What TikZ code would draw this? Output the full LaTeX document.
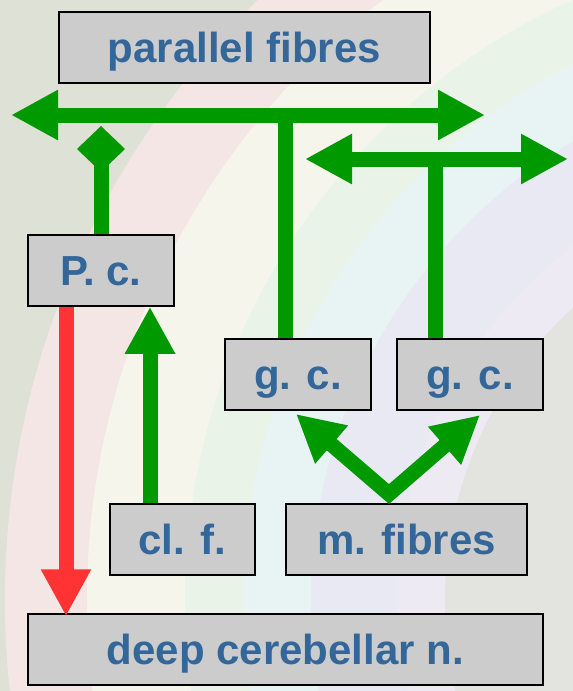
\documentclass[tikz,border=0pt]{standalone}
\usepackage{fontspec}
\setmainfont{Liberation Sans}
\usetikzlibrary{arrows.meta}
\definecolor{gr}{RGB}{0,153,0}
\definecolor{rd}{RGB}{255,51,51}
\definecolor{boxgray}{RGB}{204,204,204}
\definecolor{txtblue}{RGB}{51,102,153}
\definecolor{bgleft}{RGB}{222,226,214}
\definecolor{bpink}{RGB}{245,230,230}
\definecolor{bcream}{RGB}{245,245,236}
\definecolor{bgreen}{RGB}{234,243,232}
\definecolor{bcyan}{RGB}{232,244,243}
\definecolor{blav}{RGB}{233,233,243}
\definecolor{bviol}{RGB}{238,234,243}
\definecolor{bgright}{RGB}{227,227,223}
\begin{document}
\begin{tikzpicture}[x=1pt,y=-1pt,
  box/.style={draw=black, line width=1.5pt, fill=boxgray, inner sep=0pt,
    text=txtblue, font=\bfseries\fontsize{42}{50}\selectfont,
    text height=30pt, text depth=0pt, minimum height=71pt},
  gline/.style={draw=gr, line width=15pt},
  rline/.style={draw=rd, line width=15pt},
  tip/.style={-{Triangle[length=47pt,width=47pt]}},
  dtip/.style={{Triangle[length=47pt,width=47pt]}-{Triangle[length=47pt,width=47pt]}}]
\useasboundingbox (0,0) rectangle (573,691);
\begin{scope}
\clip (0,0) rectangle (573,691);
\fill[bgleft] (0,0) rectangle (573,691);
\coordinate (rc) at (843,600);
\fill[bpink] (rc) circle[radius=838pt];
\fill[bcream] (rc) circle[radius=756pt];
\fill[bgreen] (rc) circle[radius=658pt];
\fill[bcyan] (rc) circle[radius=600pt];
\fill[blav] (rc) circle[radius=532pt];
\fill[bviol] (rc) circle[radius=445pt];
\fill[bgright] (rc) circle[radius=398pt];
\end{scope}

\node[box, minimum width=371pt] (pf) at (244.5,47.5) {parallel fibres};
\node[box, minimum width=146pt] (pc) at (101,270.5) {P. c.};
\node[box, minimum width=146pt] (gc1) at (298,374.5) {g. c.};
\node[box, minimum width=146pt] (gc2) at (470,374.5) {g. c.};
\node[box, minimum width=145pt] (clf) at (182.5,539.5) {cl. f.};
\node[box, minimum width=241pt] (mf) at (406.5,539.5) {m. fibres};
\node[box, minimum width=515pt] (dcn) at (285.5,649.5) {deep cerebellar n.};

% parallel fibre axes
\coordinate (pfL) at (11,115);
\coordinate (pfR) at (485,115);
\coordinate (pfJ) at (285.5,115);
\coordinate (pfL2) at (305,159);
\coordinate (pfR2) at (568,159);
\coordinate (pfJ2) at (435,159);
\draw[gline] (gc1.north -| pfJ) -- (pfJ);
\draw[gline] (gc2.north -| pfJ2) -- (pfJ2);
\draw[gline, dtip] (pfL) -- (pfR);
\draw[gline, dtip] (pfL2) -- (pfR2);

% Purkinje cell dendrite
\coordinate (dm) at (101,126);
\draw[gline, -{Diamond[length=46pt,width=48pt]}] (pc.north) -- (dm);

% climbing fibre
\coordinate (cx) at (150,0);
\draw[gline, tip] (clf.north -| cx) -- (pc.south -| cx);

% Purkinje output
\coordinate (rx) at (66,0);
\draw[rline, tip, shorten >=-3pt] (pc.south -| rx) -- (dcn.north -| rx);

% mossy fibres
\coordinate (mv) at (389,494);
\coordinate (mtL) at (296,414);
\coordinate (mtR) at (480,415);
\draw[gline, dtip, line join=miter] (mtL) -- (mv) -- (mtR);
\end{tikzpicture}
\end{document}
